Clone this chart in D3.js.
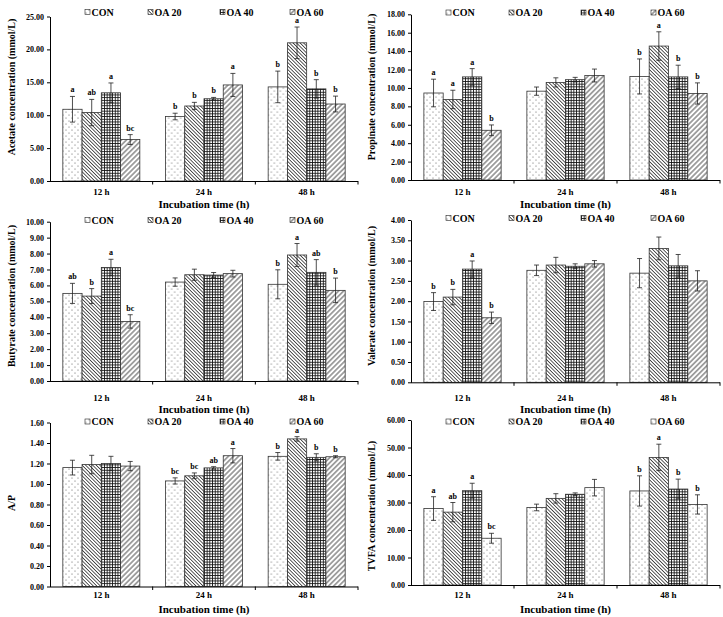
<!DOCTYPE html>
<html><head><meta charset="utf-8">
<script src="https://cdn.jsdelivr.net/npm/d3@7"></script>
<style>
body{margin:0;background:#fff}
svg{display:block}
text{font-family:"Liberation Serif","Times New Roman",serif;font-weight:bold;fill:#000}
</style>
</head><body>
<svg id="c" width="723" height="617"></svg>
<script>
// ---------------- DATA ----------------
const categories = ["12 h", "24 h", "48 h"];
const seriesNames = ["CON", "OA 20", "OA 40", "OA 60"];

// rows = incubation time, columns = CON, OA 20, OA 40, OA 60
const acetateMean = [[10.9, 10.4, 13.4, 6.3], [9.8, 11.4, 12.5, 14.6], [14.3, 21.0, 14.0, 11.7]];
const acetateErr = [[1.95, 2.0, 1.5, 0.75], [0.5, 0.55, 0.2, 1.75], [2.4, 2.4, 1.4, 1.2]];
const acetateLetters = [["a", "ab", "a", "bc"], ["b", "b", "b", "a"], ["b", "a", "b", "b"]];

const propionateMean = [[9.45, 8.75, 11.2, 5.4], [9.65, 10.6, 10.9, 11.35], [11.25, 14.55, 11.2, 9.4]];
const propionateErr = [[1.5, 1.0, 0.9, 0.58], [0.45, 0.5, 0.25, 0.7], [1.9, 1.55, 1.27, 1.15]];
const propionateLetters = [["a", "a", "a", "b"], ["", "", "", ""], ["b", "a", "b", "b"]];

const butyrateMean = [[5.5, 5.33, 7.13, 3.74], [6.21, 6.67, 6.65, 6.74], [6.07, 7.91, 6.82, 5.69]];
const butyrateErr = [[0.63, 0.47, 0.51, 0.42], [0.26, 0.35, 0.16, 0.21], [0.91, 0.72, 0.8, 0.77]];
const butyrateLetters = [["ab", "b", "a", "bc"], ["", "", "", ""], ["b", "a", "ab", "b"]];

const valerateMean = [[1.99, 2.1, 2.79, 1.59], [2.76, 2.89, 2.86, 2.92], [2.69, 3.3, 2.87, 2.5]];
const valerateErr = [[0.22, 0.19, 0.2, 0.14], [0.13, 0.19, 0.06, 0.08], [0.36, 0.28, 0.28, 0.25]];
const valerateLetters = [["b", "b", "a", "b"], ["", "", "", ""], ["", "", "", ""]];

const apMean = [[1.16, 1.19, 1.2, 1.175], [1.03, 1.08, 1.157, 1.276], [1.27, 1.44, 1.26, 1.266]];
const apErr = [[0.072, 0.09, 0.07, 0.045], [0.03, 0.028, 0.012, 0.07], [0.037, 0.022, 0.035, 0.01]];
const apLetters = [["", "", "", ""], ["bc", "bc", "ab", "a"], ["b", "a", "b", "b"]];

const tvfaMean = [[27.8, 26.5, 34.3, 17.0], [28.2, 31.5, 33.0, 35.4], [34.2, 46.4, 34.9, 29.3]];
const tvfaErr = [[4.3, 3.5, 2.7, 1.8], [1.2, 1.7, 0.5, 3.0], [5.5, 4.8, 3.6, 3.5]];
const tvfaLetters = [["a", "ab", "a", "bc"], ["", "", "", ""], ["b", "a", "b", "b"]];

const acetateTicks = [0, 5, 10, 15, 20, 25];
const propionateTicks = [0, 2, 4, 6, 8, 10, 12, 14, 16, 18];
const butyrateTicks = [0, 1, 2, 3, 4, 5, 6, 7, 8, 9, 10];
const valerateTicks = [0, 0.5, 1, 1.5, 2, 2.5, 3, 3.5, 4];
const apTicks = [0, 0.2, 0.4, 0.6, 0.8, 1.0, 1.2, 1.4, 1.6];
const tvfaTicks = [0, 10, 20, 30, 40, 50, 60];

const xTitle = "Incubation time (h)";

// ---------------- LAYOUT ----------------
const svg = d3.select("#c");
const defs = svg.append("defs");

function linePattern(id, size, angle, sw, col) {
  const p = defs.append("pattern").attr("id", id).attr("patternUnits", "userSpaceOnUse")
    .attr("width", size).attr("height", size).attr("patternTransform", `rotate(${angle})`);
  p.append("rect").attr("width", size).attr("height", size).attr("fill", "#fff");
  p.append("line").attr("x1", size / 2).attr("x2", size / 2).attr("y1", 0).attr("y2", size)
    .attr("stroke", col).attr("stroke-width", sw);
}
// dots
(function () {
  const p = defs.append("pattern").attr("id", "pDots").attr("patternUnits", "userSpaceOnUse")
    .attr("width", 6).attr("height", 6);
  p.append("rect").attr("width", 6).attr("height", 6).attr("fill", "#fff");
  p.append("circle").attr("cx", 1).attr("cy", 1).attr("r", 0.55).attr("fill", "#555");
  p.append("circle").attr("cx", 4).attr("cy", 4).attr("r", 0.55).attr("fill", "#555");
})();
linePattern("pBack", 2.5, -45, 0.8, "#333");
linePattern("pFwd", 3.6, 45, 0.8, "#222");
(function () {
  const s = 2.7;
  const p = defs.append("pattern").attr("id", "pGrid").attr("patternUnits", "userSpaceOnUse")
    .attr("width", s).attr("height", s);
  p.append("rect").attr("width", s).attr("height", s).attr("fill", "#fff");
  p.append("line").attr("x1", 0).attr("x2", s).attr("y1", 0.4).attr("y2", 0.4).attr("stroke", "#111").attr("stroke-width", 0.9);
  p.append("line").attr("y1", 0).attr("y2", s).attr("x1", 0.4).attr("x2", 0.4).attr("stroke", "#111").attr("stroke-width", 0.9);
})();

const stdFills = ["url(#pDots)", "url(#pBack)", "url(#pGrid)", "url(#pFwd)"];
const tvfaFills = ["url(#pDots)", "url(#pBack)", "url(#pGrid)", "url(#pDots)"];

const panels = [
  { mean: acetateMean, err: acetateErr, letters: acetateLetters, ticks: acetateTicks, fills: stdFills,
    label: "Acetate concentration (mmol/L)", x0: 50, x1: 358, yBot: 181, yTop: 16.5,
    legY: 12, catY: 191.5, titY: 203.5, labX: 11, labY: 87 },
  { mean: propionateMean, err: propionateErr, letters: propionateLetters, ticks: propionateTicks, fills: stdFills,
    label: "Propinate concentration (mmol/L)", x0: 411, x1: 720, yBot: 180, yTop: 14.3,
    legY: 12.5, catY: 191.5, titY: 203.5, labX: 371, labY: 87 },
  { mean: butyrateMean, err: butyrateErr, letters: butyrateLetters, ticks: butyrateTicks, fills: stdFills,
    label: "Butyrate concentration (mmol/L)", x0: 50, x1: 358, yBot: 381, yTop: 221.7,
    legY: 220, catY: 397.5, titY: 409, labX: 11, labY: 296 },
  { mean: valerateMean, err: valerateErr, letters: valerateLetters, ticks: valerateTicks, fills: stdFills,
    label: "Valerate concentration (mmol/L)", x0: 411, x1: 720, yBot: 382.3, yTop: 220,
    legY: 218, catY: 397.5, titY: 409, labX: 371, labY: 296 },
  { mean: apMean, err: apErr, letters: apLetters, ticks: apTicks, fills: stdFills,
    label: "A/P", x0: 50, x1: 358, yBot: 586.5, yTop: 422.5,
    legY: 421.5, catY: 595, titY: 609, labX: 11, labY: 503 },
  { mean: tvfaMean, err: tvfaErr, letters: tvfaLetters, ticks: tvfaTicks, fills: tvfaFills,
    label: "TVFA concentration (mmol/L)", x0: 411, x1: 720, yBot: 585, yTop: 420,
    legY: 421.5, catY: 595, titY: 609, labX: 371, labY: 506 }
];

const legendOffsets = [35, 98, 170, 240];

panels.forEach(P => {
  const g = svg.append("g");
  const xOuter = d3.scaleBand().domain(categories).range([P.x0, P.x1]).padding(0);
  const xInner = d3.scaleBand().domain(seriesNames)
    .range([xOuter.bandwidth() * 0.125, xOuter.bandwidth() * 0.875]).padding(0);
  const y = d3.scaleLinear().domain([0, P.ticks[P.ticks.length - 1]]).range([P.yBot, P.yTop]);

  // bars
  categories.forEach((c, ci) => {
    const grp = g.append("g").attr("transform", `translate(${xOuter(c)},0)`);
    const rows = seriesNames.map((s, si) => ({ s, si, v: P.mean[ci][si], e: P.err[ci][si], l: P.letters[ci][si] }));
    grp.selectAll("rect.bar").data(rows).join("rect").attr("class", "bar")
      .attr("x", d => xInner(d.s)).attr("width", xInner.bandwidth())
      .attr("y", d => y(d.v)).attr("height", d => y(0) - y(d.v))
      .attr("fill", d => P.fills[d.si]).attr("stroke", "#333").attr("stroke-width", 0.8);
    const cx = d => xInner(d.s) + xInner.bandwidth() / 2;
    grp.selectAll("line.eb").data(rows).join("line").attr("class", "eb")
      .attr("x1", cx).attr("x2", cx).attr("y1", d => y(d.v + d.e)).attr("y2", d => y(d.v - d.e))
      .attr("stroke", "#222").attr("stroke-width", 0.8);
    grp.selectAll("line.cap1").data(rows).join("line").attr("class", "cap1")
      .attr("x1", d => cx(d) - 2.5).attr("x2", d => cx(d) + 2.5).attr("y1", d => y(d.v + d.e)).attr("y2", d => y(d.v + d.e))
      .attr("stroke", "#222").attr("stroke-width", 0.8);
    grp.selectAll("line.cap2").data(rows).join("line").attr("class", "cap2")
      .attr("x1", d => cx(d) - 2.5).attr("x2", d => cx(d) + 2.5).attr("y1", d => y(d.v - d.e)).attr("y2", d => y(d.v - d.e))
      .attr("stroke", "#222").attr("stroke-width", 0.8);
    grp.selectAll("text.let").data(rows.filter(d => d.l)).join("text").attr("class", "let")
      .attr("x", cx).attr("y", d => y(d.v + d.e) - 4).attr("text-anchor", "middle")
      .attr("font-size", 8).text(d => d.l);
  });

  // y axis
  const ya = g.append("g").attr("transform", `translate(${P.x0},0)`)
    .call(d3.axisLeft(y).tickValues(P.ticks).tickFormat(d3.format(".2f")).tickSize(3).tickSizeOuter(0).tickPadding(3));
  ya.selectAll("text").attr("font-size", 8).attr("font-family", "Liberation Serif, serif").attr("font-weight", "bold");
  ya.selectAll("path,line").attr("stroke", "#000");

  // x axis
  g.append("line").attr("x1", P.x0).attr("x2", P.x1).attr("y1", P.yBot + 0.5).attr("y2", P.yBot + 0.5)
    .attr("stroke", "#000").attr("stroke-width", 1);
  const bounds = categories.map(c => xOuter(c)).slice(1).concat([P.x1]);
  g.selectAll("line.xt").data(bounds).join("line").attr("class", "xt")
    .attr("x1", d => d).attr("x2", d => d).attr("y1", P.yBot).attr("y2", P.yBot + 3.5)
    .attr("stroke", "#000").attr("stroke-width", 1);
  g.selectAll("text.cat").data(categories).join("text").attr("class", "cat")
    .attr("x", d => xOuter(d) + xOuter.bandwidth() / 2).attr("y", P.catY)
    .attr("dominant-baseline", "central").attr("text-anchor", "middle").attr("font-size", 9).text(d => d);
  g.append("text").attr("x", (P.x0 + P.x1) / 2).attr("y", P.titY).attr("dominant-baseline", "central")
    .attr("text-anchor", "middle").attr("font-size", 11).text(xTitle);

  // y title
  g.append("text").attr("transform", `translate(${P.labX},${P.labY}) rotate(-90)`)
    .attr("dominant-baseline", "central").attr("text-anchor", "middle").attr("font-size", 10).text(P.label);

  // legend
  const lg = g.selectAll("g.leg").data(seriesNames).join("g").attr("class", "leg")
    .attr("transform", (d, i) => `translate(${P.x0 + legendOffsets[i]},${P.legY})`);
  lg.append("rect").attr("x", 0).attr("y", -2.5).attr("width", 5).attr("height", 5)
    .attr("fill", (d, i) => P.fills[i]).attr("stroke", "#222").attr("stroke-width", 0.6);
  lg.append("text").attr("x", 6.5).attr("y", 0).attr("dominant-baseline", "central")
    .attr("font-size", 10).text(d => d);
});
</script>
</body></html>
